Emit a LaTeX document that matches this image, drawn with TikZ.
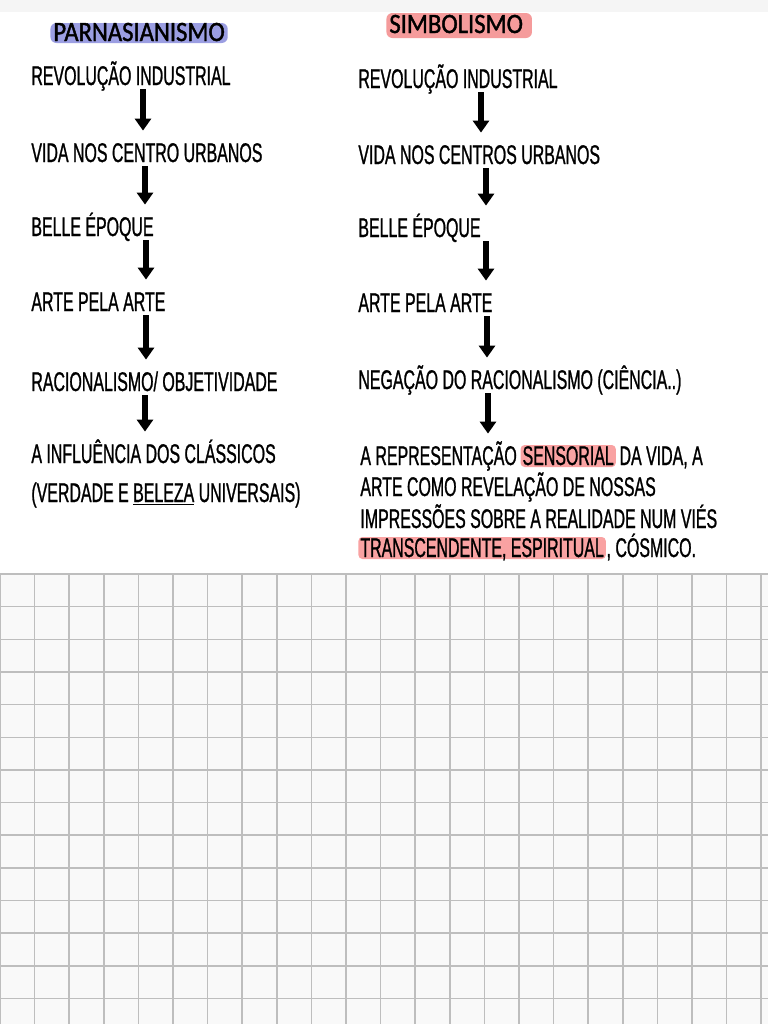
\documentclass[tikz,border=0pt]{standalone}
\usepackage{fontspec}
\setmainfont{Liberation Sans}
\newfontfamily\handfont[FakeStretch=0.59,FakeBold=0.9]{Liberation Sans}
\newfontfamily\titlefont[FakeStretch=0.88,FakeBold=1.4]{Carlito}
\usetikzlibrary{positioning,arrows.meta}
\definecolor{parnblue}{RGB}{155,158,226}
\definecolor{simbpink}{RGB}{245,155,155}
\definecolor{markpink}{RGB}{249,162,162}
\definecolor{gridline}{RGB}{190,190,190}
\definecolor{gridpaper}{RGB}{249,249,249}
\tikzset{
  txtline/.style={font=\handfont\fontsize{13.5}{16}\selectfont, inner sep=0pt, text height=10pt, text depth=1pt, anchor=base west},
  hilite/.style={txtline, fill=markpink, rounded corners=2pt, inner xsep=1pt},
  heading/.style={font=\titlefont\fontsize{14}{16}\selectfont, inner ysep=0pt, inner xsep=1.5pt, rounded corners=3pt, anchor=base west},
  flow/.style={line width=3pt, -{Triangle[width=8pt,length=6pt]}, shorten <=1pt, shorten >=5.5pt},
  gridrule/.style={gridline, line width=0.75pt}
}
\begin{document}
\begin{tikzpicture}[x=0.5pt,y=-0.5pt]
\useasboundingbox (0,0) rectangle (768,1024);
% paper
\fill[white] (0,0) rectangle (768,574);
\fill[black!4] (0,0) rectangle (768,12);
\fill[gridpaper] (0,574) rectangle (768,1024);
\foreach \i in {0,...,22} \draw[gridrule] (34.6*\i,574) -- (34.6*\i,1024);
\foreach \j in {0,...,13} \draw[gridrule] (0,574+32.65*\j) -- (768,574+32.65*\j);
% headings
\node[heading, fill=parnblue, text height=9pt, text depth=1pt] (parn) at (50,41) {PARNASIANISMO};
\node[heading, fill=simbpink, text height=10pt, text depth=2.5pt] (simb) at (386,33) {SIMBOLISMO\hspace*{3pt}};
% parnasianismo column
\node[txtline] (p1) at (31,85) {REVOLUÇÃO INDUSTRIAL};
\node[txtline] (p2) at (31,162) {VIDA NOS CENTRO URBANOS};
\node[txtline] (p3) at (31,236) {BELLE ÉPOQUE};
\node[txtline] (p4) at (31,311) {ARTE PELA ARTE};
\node[txtline] (p5) at (31,391) {RACIONALISMO/ OBJETIVIDADE};
\node[txtline] (p6) at (31,463) {A INFLUÊNCIA DOS CLÁSSICOS};
\node[txtline] (p7) at (31,502) {(VERDADE E \underline{BELEZA} UNIVERSAIS)};
% simbolismo column
\node[txtline] (s1) at (358,88) {REVOLUÇÃO INDUSTRIAL};
\node[txtline] (s2) at (358,164) {VIDA NOS CENTROS URBANOS};
\node[txtline] (s3) at (358,237) {BELLE ÉPOQUE};
\node[txtline] (s4) at (358,312) {ARTE PELA ARTE};
\node[txtline] (s5) at (358,389) {NEGAÇÃO DO RACIONALISMO (CIÊNCIA..)};
\node[txtline] (s6a) at (360,465) {A REPRESENTAÇÃO};
\node[hilite, base right=1.5pt of s6a] (s6b) {SENSORIAL};
\node[txtline, base right=1.5pt of s6b] (s6c) {DA VIDA, A};
\node[txtline] (s7) at (360,496) {ARTE COMO REVELAÇÃO DE NOSSAS};
\node[txtline] (s8) at (360,528) {IMPRESSÕES SOBRE A REALIDADE NUM VIÉS};
\node[hilite] (s9a) at (358,557) {TRANSCENDENTE, ESPIRITUAL};
\node[txtline, base right=0pt of s9a] (s9b) {, CÓSMICO.};
% arrows
\foreach \a/\b/\x in {p1/p2/143, p2/p3/145, p3/p4/146, p4/p5/146, p5/p6/145,
  s1/s2/481, s2/s3/486, s3/s4/486, s4/s5/487, s5/s6a/488}
  \draw[flow] (\a.south -| \x,0) -- (\b.north -| \x,0);
\end{tikzpicture}
\end{document}
